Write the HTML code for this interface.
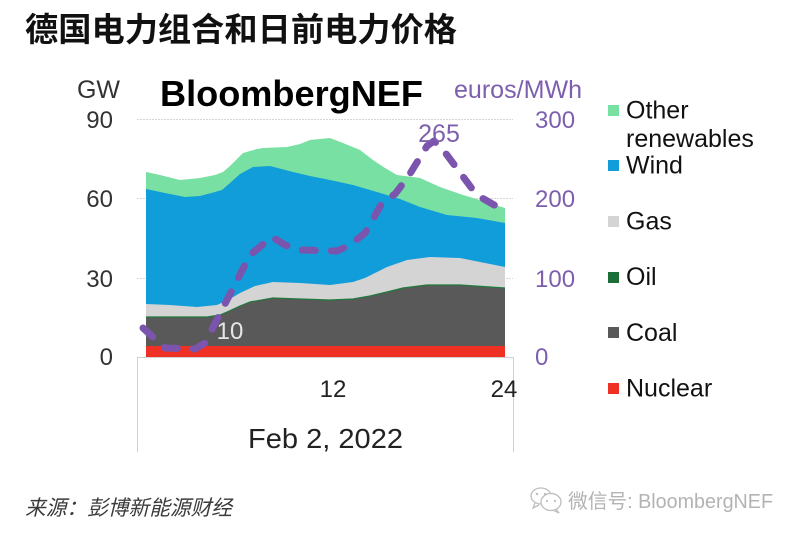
<!DOCTYPE html>
<html>
<head>
<meta charset="utf-8">
<style>
  html, body { margin: 0; padding: 0; background: #ffffff; }
  body { width: 800px; height: 536px; overflow: hidden; }
  svg { display: block; }
  .lat { font-family: "Liberation Sans", Arial, sans-serif; }
  .cjk { font-family: "Liberation Sans", "Noto Sans CJK SC", sans-serif; }
</style>
</head>
<body>
<svg width="800" height="536" viewBox="0 0 800 536" xmlns="http://www.w3.org/2000/svg">
  <rect x="0" y="0" width="800" height="536" fill="#ffffff"/>

  <!-- Title -->
  <text class="cjk" x="25" y="41" font-size="33" font-weight="bold" fill="#111111" textLength="432" lengthAdjust="spacingAndGlyphs">德国电力组合和日前电力价格</text>

  <!-- Header labels -->
  <text class="lat" x="98.5" y="98" font-size="25" fill="#333333" text-anchor="middle">GW</text>
  <text class="lat" x="160" y="106" font-size="36" font-weight="bold" fill="#000000" textLength="263" lengthAdjust="spacingAndGlyphs">BloombergNEF</text>
  <text class="lat" x="454" y="98" font-size="25" fill="#7d5fae" textLength="128" lengthAdjust="spacingAndGlyphs">euros/MWh</text>

  <!-- Gridlines -->
  <g stroke="#d6d6d6" stroke-width="1" stroke-dasharray="2 1">
    <line x1="137" y1="119.5" x2="513" y2="119.5"/>
    <line x1="137" y1="198.5" x2="513" y2="198.5"/>
    <line x1="137" y1="278.5" x2="513" y2="278.5"/>
  </g>

  <!-- Left axis labels -->
  <g class="lat" font-size="24" fill="#333333" text-anchor="end">
    <text x="113" y="128">90</text>
    <text x="113" y="207">60</text>
    <text x="113" y="287">30</text>
    <text x="113" y="365">0</text>
  </g>

  <!-- Right axis labels -->
  <g class="lat" font-size="24" fill="#7d5fae">
    <text x="535" y="128">300</text>
    <text x="535" y="207">200</text>
    <text x="535" y="287">100</text>
    <text x="535" y="365">0</text>
  </g>

  <!-- Other renewables -->
  <polygon fill="#78e0a2" points="146,172 160,175 180,180 200,178 215,175 223,172 230,166 243,153 257,149 263,148 287,147 300,144 310,140 330,138 343,143 360,150 373,160 385,168 397,175 420,178 440,187 463,195 480,200 495,205 505,208 505,357 146,357"/>
  <!-- Wind -->
  <polygon fill="#119dd9" points="146,189 165,193 185,197 200,196 215,192 222,190 230,183 240,174 253,167 270,166 293,172 310,176 330,180 353,185 370,190 387,195 400,199 420,207 447,215 477,218 505,223 505,357 146,357"/>
  <!-- Gas -->
  <polygon fill="#d4d4d4" points="146,304 170,305 197,307 217,305 230,299 240,293 255,286 273,282 300,283 330,285 353,282 365,278 387,267 407,260 430,257 460,258 480,262 505,267 505,357 146,357"/>
  <!-- Coal -->
  <polygon fill="#595959" points="146,317 180,317 207,317 220,315 227,312 240,306 250,302 273,298 300,299 330,300 353,299 370,296 387,292 403,288 427,285 460,285 505,288 505,357 146,357"/>
  <!-- Oil (thin) -->
  <polyline fill="none" stroke="#1f7a3c" stroke-width="1.2" points="146,317 180,317 207,317 220,315 227,312 240,306 250,302 273,298 300,299 330,300 353,299 370,296 387,292 403,288 427,285 460,285 505,288"/>
  <!-- Nuclear -->
  <rect x="146" y="346" width="359" height="11" fill="#ee3124"/>

  <!-- Box below plot -->
  <g stroke="#d0d0d0" stroke-width="1" fill="none">
    <line x1="137" y1="357.5" x2="513" y2="357.5"/>
    <line x1="137.5" y1="357" x2="137.5" y2="452"/>
    <line x1="513.5" y1="357" x2="513.5" y2="452"/>
  </g>

  <!-- Price dashed line -->
  <path d="M143,328 L165,348 L195,349 L205,343 L250,255 L272,237 L285,245 L300,250 L337,251 L350,245 L365,233 L382,203 L395,194 L408,177 L427,146 L434,141 L441,147 L473,190 L482,198 L503,210"
        fill="none" stroke="#7b54ad" stroke-width="7" stroke-linecap="round" stroke-linejoin="round" stroke-dasharray="13 16"/>

  <!-- Data labels -->
  <text class="lat" x="230" y="339" font-size="24" fill="#e6e6e6" text-anchor="middle">10</text>
  <text class="lat" x="439" y="142" font-size="25" fill="#7d5fae" text-anchor="middle">265</text>

  <!-- X axis -->
  <text class="lat" x="333" y="397" font-size="24" fill="#222222" text-anchor="middle">12</text>
  <text class="lat" x="504" y="397" font-size="24" fill="#222222" text-anchor="middle">24</text>
  <text class="lat" x="248" y="448" font-size="28" fill="#222222" textLength="155" lengthAdjust="spacingAndGlyphs">Feb 2, 2022</text>

  <!-- Legend -->
  <g>
    <rect x="608" y="105" width="11" height="11" fill="#78e0a2"/>
    <rect x="608" y="160" width="11" height="11" fill="#119dd9"/>
    <rect x="608" y="216" width="11" height="11" fill="#d4d4d4"/>
    <rect x="608" y="272" width="11" height="11" fill="#1b6e38"/>
    <rect x="608" y="327" width="11" height="11" fill="#595959"/>
    <rect x="608" y="383" width="11" height="11" fill="#ee3124"/>
  </g>
  <g class="lat" font-size="25" fill="#111111">
    <text x="626" y="118.5">Other</text>
    <text x="626" y="147">renewables</text>
    <text x="626" y="173.5">Wind</text>
    <text x="626" y="229.5">Gas</text>
    <text x="626" y="285">Oil</text>
    <text x="626" y="341">Coal</text>
    <text x="626" y="396.5">Nuclear</text>
  </g>

  <!-- Source -->
  <text class="cjk" x="25" y="515" font-size="21" font-style="italic" fill="#3a3a3a" textLength="207" lengthAdjust="spacingAndGlyphs">来源：彭博新能源财经</text>

  <!-- Watermark -->
  <g fill="none" stroke="#bdbdbd" stroke-width="1.3">
    <ellipse cx="541" cy="496" rx="10" ry="8"/>
    <ellipse cx="551" cy="502" rx="10" ry="8.5" fill="#ffffff"/>
    <path d="M535,503 L533,508 L539,505"/>
    <path d="M556,509 L559,513 L553,510"/>
  </g>
  <g fill="#bdbdbd">
    <circle cx="537" cy="494" r="1.2"/>
    <circle cx="545" cy="494" r="1.2"/>
    <circle cx="547" cy="501" r="1.1"/>
    <circle cx="555" cy="501" r="1.1"/>
  </g>
  <text class="cjk" x="568" y="508" font-size="20" fill="#b3b3b3" textLength="205" lengthAdjust="spacingAndGlyphs">微信号: BloombergNEF</text>
</svg>
</body>
</html>
